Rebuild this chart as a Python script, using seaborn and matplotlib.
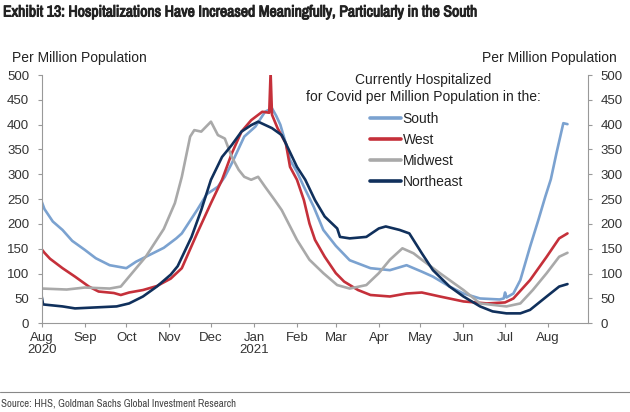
import matplotlib
matplotlib.use("Agg")
import matplotlib.pyplot as plt
from matplotlib import font_manager
import matplotlib.patheffects as pe
import seaborn as sns
import pandas as pd

# ---------------- data ----------------
regions = ["South", "West", "Midwest", "Northeast"]

south_dates = ["2020-08-01", "2020-08-03", "2020-08-09", "2020-08-16", "2020-08-23", "2020-09-01",
               "2020-09-09", "2020-09-19", "2020-10-01", "2020-10-08", "2020-10-18", "2020-10-28",
               "2020-11-06", "2020-11-10", "2020-11-21", "2020-11-28", "2020-12-06", "2020-12-11",
               "2020-12-16", "2020-12-21", "2020-12-25", "2021-01-02", "2021-01-09", "2021-01-14",
               "2021-01-17", "2021-01-20", "2021-01-24", "2021-01-27", "2021-02-01", "2021-02-06",
               "2021-02-13", "2021-02-20", "2021-03-01", "2021-03-11", "2021-03-26", "2021-04-09",
               "2021-04-21", "2021-05-02", "2021-05-10", "2021-05-22", "2021-06-01", "2021-06-13",
               "2021-06-27", "2021-06-30", "2021-07-01", "2021-07-02", "2021-07-07", "2021-07-12",
               "2021-07-19", "2021-07-25", "2021-07-30", "2021-08-03", "2021-08-07", "2021-08-12",
               "2021-08-15"]
south_vals = [245, 230, 205, 188, 166, 148,
              131, 117, 111, 124, 138, 152,
              171, 181, 228, 260, 275, 295,
              322, 352, 376, 396, 426, 433,
              418, 400, 362, 329, 305, 275,
              235, 188, 156, 127, 111, 107,
              117, 104, 94, 74, 60, 50,
              48, 50, 62, 52, 60, 87,
              154, 208, 255, 290, 342, 403,
              401]

west_dates = ["2020-08-01", "2020-08-03", "2020-08-07", "2020-08-16", "2020-08-25", "2020-09-04",
              "2020-09-11", "2020-09-22", "2020-09-27", "2020-10-03", "2020-10-13", "2020-10-23",
              "2020-11-02", "2020-11-10", "2020-11-21", "2020-12-01", "2020-12-09", "2020-12-16",
              "2020-12-23", "2020-12-30", "2021-01-07", "2021-01-12", "2021-01-13", "2021-01-14",
              "2021-01-18", "2021-01-24", "2021-01-27", "2021-02-01", "2021-02-06", "2021-02-10",
              "2021-02-14", "2021-02-21", "2021-03-01", "2021-03-07", "2021-03-17", "2021-03-26",
              "2021-04-09", "2021-04-21", "2021-05-02", "2021-05-15", "2021-06-01", "2021-06-18",
              "2021-07-01", "2021-07-07", "2021-07-19", "2021-07-31", "2021-08-09", "2021-08-15"]
west_vals = [149, 142, 130, 111, 94, 74,
             64, 61, 57, 62, 67, 75,
             90, 111, 181, 242, 289, 342,
             386, 409, 426, 424, 505, 420,
             393, 362, 315, 289, 248, 201,
             168, 134, 101, 84, 67, 57,
             54, 60, 62, 54, 44, 40,
             42, 50, 87, 134, 171, 181]

midwest_dates = ["2020-08-01", "2020-08-19", "2020-09-01", "2020-09-19", "2020-09-27", "2020-10-03",
                 "2020-10-15", "2020-10-28", "2020-11-05", "2020-11-10", "2020-11-12", "2020-11-16",
                 "2020-11-19", "2020-11-24", "2020-12-01", "2020-12-06", "2020-12-11", "2020-12-16",
                 "2020-12-21", "2020-12-25", "2020-12-30", "2021-01-04", "2021-01-09", "2021-01-16",
                 "2021-01-21", "2021-02-01", "2021-02-10", "2021-02-20", "2021-03-02", "2021-03-11",
                 "2021-03-23", "2021-04-01", "2021-04-09", "2021-04-18", "2021-04-26", "2021-05-02",
                 "2021-05-15", "2021-06-01", "2021-06-13", "2021-07-02", "2021-07-12", "2021-07-21",
                 "2021-07-31", "2021-08-09", "2021-08-15"]
midwest_vals = [70, 68, 72, 70, 74, 94,
                134, 190, 242, 295, 322, 376,
                389, 386, 406, 379, 372, 335,
                309, 295, 289, 295, 275, 248,
                228, 168, 128, 101, 77, 70,
                77, 101, 128, 151, 141, 128,
                101, 67, 40, 34, 40, 67,
                101, 134, 142]

northeast_dates = ["2020-08-01", "2020-08-02", "2020-08-16", "2020-08-25", "2020-09-09", "2020-09-24",
                   "2020-10-03", "2020-10-13", "2020-10-23", "2020-11-02", "2020-11-07", "2020-11-17",
                   "2020-11-24", "2020-12-01", "2020-12-09", "2020-12-16", "2020-12-23", "2020-12-30",
                   "2021-01-04", "2021-01-14", "2021-01-21", "2021-01-24", "2021-02-01", "2021-02-07",
                   "2021-02-14", "2021-02-21", "2021-03-02", "2021-03-04", "2021-03-11", "2021-03-23",
                   "2021-04-01", "2021-04-06", "2021-04-16", "2021-04-23", "2021-05-02", "2021-05-10",
                   "2021-05-22", "2021-06-01", "2021-06-13", "2021-06-22", "2021-07-02", "2021-07-12",
                   "2021-07-19", "2021-07-31", "2021-08-09", "2021-08-15"]
northeast_vals = [54, 38, 34, 30, 32, 34,
                  40, 54, 74, 98, 115, 174,
                  228, 289, 335, 359, 386, 399,
                  406, 393, 379, 362, 315, 289,
                  248, 215, 191, 174, 171, 174,
                  191, 195, 188, 181, 141, 107,
                  74, 54, 34, 24, 20, 20,
                  27, 54, 74, 79]

month_ticks = ["2020-08-01", "2020-09-01", "2020-10-01", "2020-11-01", "2020-12-01", "2021-01-01",
               "2021-02-01", "2021-03-01", "2021-04-01", "2021-05-01", "2021-06-01", "2021-07-01",
               "2021-08-01"]
tick_labels = ["Aug\n2020", "Sep", "Oct", "Nov", "Dec", "Jan\n2021", "Feb", "Mar", "Apr", "May",
               "Jun", "Jul", "Aug"]
y_ticks = [0, 50, 100, 150, 200, 250, 300, 350, 400, 450, 500]

colors = {"South": "#7ba2d0", "West": "#c5303a", "Midwest": "#a9a9a9", "Northeast": "#10305c"}

title_text = "Exhibit 13: Hospitalizations Have Increased Meaningfully, Particularly in the South"
source_text = "Source: HHS, Goldman Sachs Global Investment Research"
legend_title = "Currently Hospitalized\nfor Covid per Million Population in the:"
axis_unit = "Per Million Population"

# ---------------- build long table ----------------
frames = []
for name, d, v in [("South", south_dates, south_vals), ("West", west_dates, west_vals),
                   ("Midwest", midwest_dates, midwest_vals), ("Northeast", northeast_dates, northeast_vals)]:
    frames.append(pd.DataFrame({"date": pd.to_datetime(d), "value": v, "region": name}))
df = pd.concat(frames, ignore_index=True)

# ---------------- fonts ----------------
sns.set_theme(style="white")
plt.rcParams["font.family"] = ["Liberation Sans", "DejaVu Sans"]
installed = sorted({f.name for f in font_manager.fontManager.ttflist})
narrow = [n for n in installed if ("Narrow" in n or "Condensed" in n)]
narrow_family = [narrow[0]] if narrow else []
narrow_family += ["Liberation Sans", "DejaVu Sans"]

# ---------------- plot ----------------
fig = plt.figure(figsize=(6.3, 4.12), dpi=100)
ax = fig.add_axes([41.7 / 630, 1 - 323.3 / 412, (588.3 - 41.7) / 630, (323.3 - 75) / 412])

sns.lineplot(data=df, x="date", y="value", hue="region", hue_order=regions, palette=colors,
             linewidth=1.9, ax=ax, legend=True, estimator=None, sort=True)

ax.set_xlim(pd.Timestamp("2020-08-01"), pd.Timestamp("2021-08-30"))
ax.set_ylim(0, 500)
ax.set_xlabel("")
ax.set_ylabel("")
ax.set_xticks(pd.to_datetime(month_ticks))
ax.set_xticklabels(tick_labels, fontsize=9.5, color="#333333", linespacing=1.0)
ax.set_yticks(y_ticks)
ax.set_yticklabels([str(t) for t in y_ticks], fontsize=9.5, color="#333333")

spine_col = "#999999"
for s in ["left", "bottom", "right"]:
    ax.spines[s].set_visible(True)
    ax.spines[s].set_color(spine_col)
    ax.spines[s].set_linewidth(0.8)
ax.spines["top"].set_visible(False)

ax.tick_params(axis="y", which="both", left=True, right=True, labelleft=True, labelright=True,
               direction="out", length=3, width=0.8, color=spine_col, pad=6)
ax.tick_params(axis="x", direction="out", length=3, width=0.8, color=spine_col, pad=3, bottom=True)
ax.grid(False)

handles, labels = ax.get_legend_handles_labels()
leg = ax.legend(handles, labels,
                loc="upper left", bbox_to_anchor=(370 / 630, 1 - 112 / 412),
                bbox_transform=fig.transFigure, frameon=False, fontsize=10,
                handlelength=2.2, handletextpad=0.15, labelspacing=0.5,
                borderpad=0.0, borderaxespad=0.0)
for line in leg.get_lines():
    line.set_linewidth(2.6)
for t in leg.get_texts():
    t.set_color("#222222")

fig.text(423 / 630, 1 - 88.5 / 412, legend_title, fontsize=10, color="#222222",
         ha="center", va="center", multialignment="center", linespacing=1.2)

fig.text(12 / 630, 1 - 58 / 412, axis_unit, fontsize=10, color="#222222", ha="left", va="center")
fig.text(617 / 630, 1 - 58 / 412, axis_unit, fontsize=10, color="#222222", ha="right", va="center")

title = fig.text(3 / 630, 1 - 12 / 412, title_text, fontsize=11, fontweight="bold",
                 color="#222222", ha="left", va="center", family=narrow_family)
title.set_path_effects([pe.withStroke(linewidth=0.7, foreground="#222222")])
source = fig.text(1 / 630, 1 - 404 / 412, source_text, fontsize=8, color="#444444",
                  ha="left", va="center", family=narrow_family)

# fit the condensed-looking texts to the widths seen in the reference
fig.canvas.draw()
renderer = fig.canvas.get_renderer()
for txt, target in [(title, 476.0), (source, 234.0)]:
    w = txt.get_window_extent(renderer).width
    txt.set_fontsize(txt.get_fontsize() * target / w)

fig.add_artist(plt.Line2D([0, 1], [1 - 392 / 412, 1 - 392 / 412], transform=fig.transFigure,
                          color="#888888", linewidth=0.8))

fig.savefig("out.png", dpi=100, facecolor="white")
